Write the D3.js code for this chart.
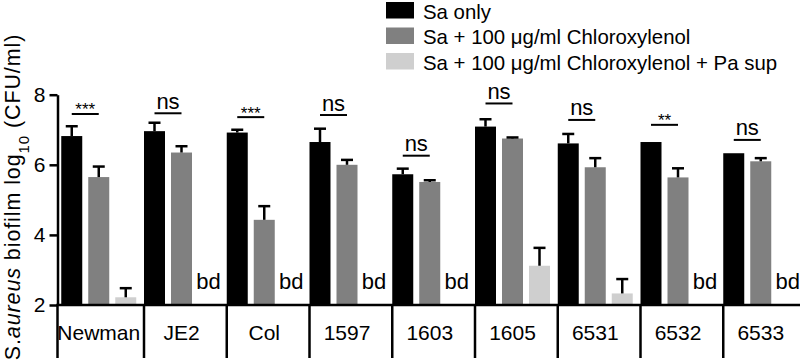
<!DOCTYPE html>
<html>
<head>
<meta charset="utf-8">
<script src="https://cdn.jsdelivr.net/npm/d3@7"></script>
<style>
  body { margin: 0; background: #fff; }
  svg { font-family: "Liberation Sans", Arial, Helvetica, sans-serif; }
</style>
</head>
<body>
<div id="chart-area"></div>
<script>
var categories = ["Newman", "JE2", "Col", "1597", "1603", "1605", "6531", "6532", "6533"];
var seriesNames = ["Sa only", "Sa + 100 \u03bcg/ml Chloroxylenol", "Sa + 100 \u03bcg/ml Chloroxylenol + Pa sup"];

// log10 CFU/ml means and error (upper SEM)
var saOnly      = [6.82, 6.96, 6.92, 6.65, 5.73, 7.09, 6.61, 6.65, 6.33];
var saOnlyErr   = [0.28, 0.24, 0.08, 0.38, 0.16, 0.21, 0.27, 0, 0];
var chloro      = [5.65, 6.35, 4.43, 6.00, 5.51, 6.75, 5.93, 5.64, 6.10];
var chloroErr   = [0.30, 0.18, 0.39, 0.14, 0.05, 0.03, 0.26, 0.26, 0.09];
var chloroPa    = [2.22, null, null, null, null, 3.12, 2.33, null, null];
var chloroPaErr = [0.26, null, null, null, null, 0.51, 0.41, null, null];

// significance between Sa only and Sa + Chloroxylenol
var sigLabels = ["***", "ns", "***", "ns", "ns", "ns", "ns", "**", "ns"];
var sigLevels = [7.45, 7.47, 7.36, 7.42, 6.26, 7.75, 7.28, 7.14, 6.71];

var yTicks = [2, 4, 6, 8];

var width = 800;
var height = 360;
var colors = ["#000000", "#808080", "#cfcfcf"];

var svg = d3.select("#chart-area").append("svg")
    .attr("width", width)
    .attr("height", height);

var axisX = 57.5;
var x = d3.scaleBand().domain(categories).range([61.25, 61.25 + 9 * 82.75]).padding(0);
var xs = d3.scaleBand().domain([0, 1, 2]).range([0, 75]).paddingInner(6 / 27).paddingOuter(0);
var y = d3.scaleLinear().domain([2, 8]).range([305, 94.7]);

var series = [
    { name: seriesNames[0], values: saOnly, err: saOnlyErr },
    { name: seriesNames[1], values: chloro, err: chloroErr },
    { name: seriesNames[2], values: chloroPa, err: chloroPaErr }
];

// flatten bars
var bars = [];
series.forEach((s, si) => {
    categories.forEach((c, ci) => {
        bars.push({ cat: c, si: si, v: s.values[ci], e: s.err[ci] });
    });
});

var g = svg.append("g");

// bars
g.selectAll("rect.bar").data(bars.filter((d) => d.v !== null))
    .enter().append("rect")
    .attr("class", "bar")
    .attr("x", (d) => x(d.cat) + xs(d.si))
    .attr("width", xs.bandwidth())
    .attr("y", (d) => y(d.v))
    .attr("height", (d) => y(2) - y(d.v))
    .attr("fill", (d) => colors[d.si]);

// error bars
var errs = bars.filter((d) => d.v !== null && d.e > 0);
var capW = 12;
g.selectAll("line.stem").data(errs)
    .enter().append("line")
    .attr("x1", (d) => x(d.cat) + xs(d.si) + xs.bandwidth() / 2)
    .attr("x2", (d) => x(d.cat) + xs(d.si) + xs.bandwidth() / 2)
    .attr("y1", (d) => y(d.v))
    .attr("y2", (d) => y(d.v + d.e))
    .attr("stroke", "#000")
    .attr("stroke-width", 2.5);

g.selectAll("line.cap").data(errs)
    .enter().append("line")
    .attr("x1", (d) => x(d.cat) + xs(d.si) + xs.bandwidth() / 2 - capW / 2)
    .attr("x2", (d) => x(d.cat) + xs(d.si) + xs.bandwidth() / 2 + capW / 2)
    .attr("y1", (d) => y(d.v + d.e))
    .attr("y2", (d) => y(d.v + d.e))
    .attr("stroke", "#000")
    .attr("stroke-width", 2.5);

// "bd" labels for below detection
g.selectAll("text.bd").data(bars.filter((d) => d.v === null))
    .enter().append("text")
    .attr("x", (d) => x(d.cat) + xs(d.si) + xs.bandwidth() / 2)
    .attr("y", 289)
    .attr("text-anchor", "middle")
    .style("font-size", "22px")
    .text("bd");

// significance lines
categories.forEach((c, i) => {
    var x1 = x(c) + xs(0) + xs.bandwidth() / 2;
    var x2 = x(c) + xs(1) + xs.bandwidth() / 2;
    var ly = y(sigLevels[i]);
    g.append("line")
        .attr("x1", x1).attr("x2", x2)
        .attr("y1", ly).attr("y2", ly)
        .attr("stroke", "#000")
        .attr("stroke-width", 2);
    var isNs = sigLabels[i] === "ns";
    g.append("text")
        .attr("x", (x1 + x2) / 2)
        .attr("y", isNs ? ly - 4.5 : ly + 1.5)
        .attr("text-anchor", "middle")
        .style("font-size", isNs ? "22px" : "17px")
        .text(sigLabels[i]);
});

// y axis
var yAxisGroup = svg.append("g")
    .attr("transform", "translate(" + axisX + ", 0)")
    .call(d3.axisLeft(y).tickValues(yTicks).tickFormat(d3.format("d"))
        .tickSize(8).tickSizeOuter(0).tickPadding(4));

yAxisGroup.selectAll(".domain, .tick line")
    .attr("stroke", "#000")
    .attr("stroke-width", 2.5);
yAxisGroup.selectAll(".tick text")
    .attr("fill", "#000")
    .style("font-size", "21px")
    .style("font-family", "'Liberation Sans', Arial, sans-serif");

// x axis line and category separators
svg.append("line")
    .attr("x1", axisX - 1.25).attr("x2", width)
    .attr("y1", y(2)).attr("y2", y(2))
    .attr("stroke", "#000")
    .attr("stroke-width", 2.5);

svg.selectAll("line.sep").data(categories)
    .enter().append("line")
    .attr("x1", (d, i) => i === 0 ? axisX : x(d))
    .attr("x2", (d, i) => i === 0 ? axisX : x(d))
    .attr("y1", y(2))
    .attr("y2", 358)
    .attr("stroke", "#000")
    .attr("stroke-width", 2.5);

svg.selectAll("text.cat").data(categories)
    .enter().append("text")
    .attr("x", (d) => x(d) + 37.5)
    .attr("y", 340)
    .attr("text-anchor", "middle")
    .style("font-size", "21px")
    .text((d) => d);

// y axis title
var yTitle = svg.append("text")
    .attr("transform", "translate(19.5, 197) rotate(-90)")
    .attr("text-anchor", "middle")
    .style("font-size", "21.5px")
    .style("letter-spacing", "0.9px");
yTitle.append("tspan").text("S.");
yTitle.append("tspan").style("font-style", "italic").text("aureus");
yTitle.append("tspan").text(" biofilm log");
yTitle.append("tspan").attr("baseline-shift", "sub").style("font-size", "15px").text("10");
yTitle.append("tspan").text(" (CFU/ml)");

// legend
var legend = svg.append("g").attr("transform", "translate(386, 0)");
var legendY = [2, 27.5, 53];
seriesNames.forEach((name, i) => {
    legend.append("rect")
        .attr("x", 0).attr("y", legendY[i])
        .attr("width", 28).attr("height", 16.5)
        .attr("fill", colors[i]);
    legend.append("text")
        .attr("x", 37).attr("y", legendY[i] + 16.5)
        .style("font-size", "20.4px")
        .text(name);
});
</script>
</body>
</html>
